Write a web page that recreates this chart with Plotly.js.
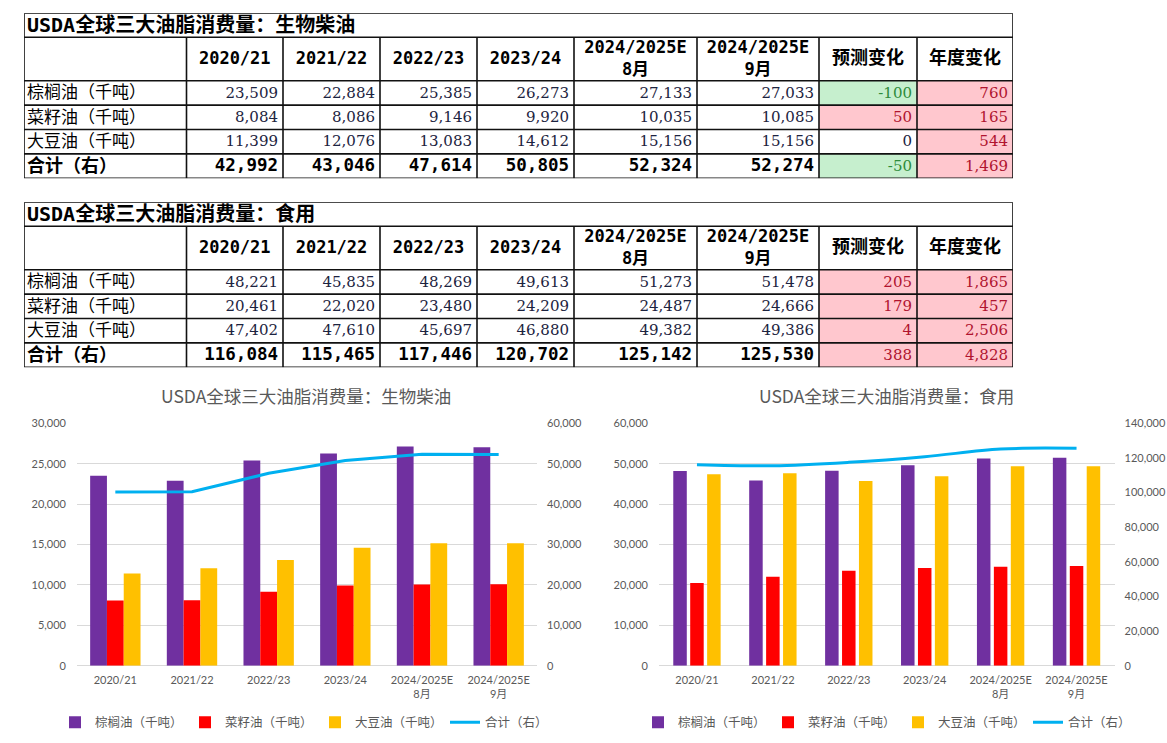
<!DOCTYPE html>
<html>
<head>
<meta charset="utf-8">
<script src="https://cdn.plot.ly/plotly-3.0.1.min.js"></script>
<style>
html,body{margin:0;padding:0;background:#ffffff;}
#chart{width:1167px;height:743px;}
</style>
</head>
<body>
<div id="chart"></div>
<script>
// ---------------- DATA ----------------
const categories = ['2020/21', '2021/22', '2022/23', '2023/24', '2024/2025E<br>8月', '2024/2025E<br>9月'];
const changeHeaders = ['预测变化', '年度变化'];
const rowLabels = ['棕榈油（千吨）', '菜籽油（千吨）', '大豆油（千吨）', '合计（右）'];
const seriesNames = ['棕榈油（千吨）', '菜籽油（千吨）', '大豆油（千吨）', '合计（右）'];
const bioTitle = 'USDA全球三大油脂消费量：生物柴油';
const foodTitle = 'USDA全球三大油脂消费量：食用';

// 生物柴油
const bioPalm = [23509, 22884, 25385, 26273, 27133, 27033];
const bioRapeseed = [8084, 8086, 9146, 9920, 10035, 10085];
const bioSoy = [11399, 12076, 13083, 14612, 15156, 15156];
const bioTotal = [42992, 43046, 47614, 50805, 52324, 52274];
const bioForecastChange = [-100, 50, 0, -50];
const bioAnnualChange = [760, 165, 544, 1469];

// 食用
const foodPalm = [48221, 45835, 48269, 49613, 51273, 51478];
const foodRapeseed = [20461, 22020, 23480, 24209, 24487, 24666];
const foodSoy = [47402, 47610, 45697, 46880, 49382, 49386];
const foodTotal = [116084, 115465, 117446, 120702, 125142, 125530];
const foodForecastChange = [205, 179, 4, 388];
const foodAnnualChange = [1865, 457, 2506, 4828];

// ---------------- STYLE ----------------
const W = 1167, H = 743;
const fx = p => p / W;
const fy = p => 1 - p / H;

const PURPLE = '#7030a0', RED = '#ff0000', YELLOW = '#ffc000', BLUE = '#00b0f0';
const GREEN_FILL = '#c6efce', PINK_FILL = '#ffc7ce';
const GREEN_TEXT = '#2e8b3a', RED_TEXT = '#b0142e';
const NUM_TEXT = '#1c2340';
const GREY = '#595959';
const CJK = 'Noto Sans CJK SC';

const colW = [162.5, 96.5, 97, 97, 97, 123, 122, 98, 96];
const rowH = [24, 43.4, 24.4, 24.4, 24.4, 24.4];
const cum = a => a.reduce((acc, v) => { acc.push(acc[acc.length - 1] + v); return acc; }, [0]);
const xE = cum(colW), yE = cum(rowH);
const TW = xE[xE.length - 1], TH = yE[yE.length - 1];

const fmt = v => v.toLocaleString('en-US');

const data = [];
const shapes = [];
const annotations = [];
const layout = {
  width: W, height: H,
  margin: {l: 0, r: 0, t: 0, b: 0},
  paper_bgcolor: '#ffffff', plot_bgcolor: 'rgba(0,0,0,0)',
  barmode: 'overlay',
  showlegend: true,
  hovermode: false,
  font: {family: CJK, color: GREY}
};

// ---------------- TABLES ----------------
function addTable(k, leftPx, topPx, title, series, forecast, annual) {
  const xa = 'x' + (3 + k), ya = 'y' + (5 + k);
  layout['xaxis' + (3 + k)] = {domain: [fx(leftPx), fx(leftPx + TW)], range: [0, TW], visible: false, fixedrange: true, anchor: ya};
  layout['yaxis' + (5 + k)] = {domain: [fy(topPx + TH), fy(topPx)], range: [TH, 0], visible: false, fixedrange: true, anchor: xa};

  const rows = series.map((s, i) => s.concat([forecast[i], annual[i]]));

  // conditional fills
  rows.forEach((r, i) => {
    r.forEach((v, c) => {
      if (c >= 6 && v !== 0) {
        shapes.push({type: 'rect', xref: xa, yref: ya, x0: xE[c + 1], x1: xE[c + 2], y0: yE[2 + i], y1: yE[3 + i],
          fillcolor: v < 0 ? GREEN_FILL : PINK_FILL, line: {width: 0}, layer: 'below'});
      }
    });
  });

  // grid lines
  const L = {color: '#111111', width: 1.6};
  shapes.push({type: 'rect', xref: xa, yref: ya, x0: 0, x1: TW, y0: 0, y1: TH, line: L});
  for (let j = 1; j < yE.length - 1; j++)
    shapes.push({type: 'line', xref: xa, yref: ya, x0: 0, x1: TW, y0: yE[j], y1: yE[j], line: L});
  for (let j = 1; j < xE.length - 1; j++)
    shapes.push({type: 'line', xref: xa, yref: ya, x0: xE[j], x1: xE[j], y0: yE[1], y1: TH, line: L});

  const base = {type: 'scatter', mode: 'text', xaxis: xa, yaxis: ya, hoverinfo: 'skip', showlegend: false, cliponaxis: false};

  // title row
  data.push(Object.assign({}, base, {
    x: [3], y: [yE[0] + rowH[0] / 2 + 1.5], text: [title], textposition: 'middle right',
    textfont: {family: 'DejaVu Sans Mono, ' + CJK, size: 20, color: '#000000', weight: 'bold'}
  }));

  // header row
  const heads = categories.concat(changeHeaders);
  data.push(Object.assign({}, base, {
    x: heads.map((h, i) => (xE[i + 1] + xE[i + 2]) / 2),
    y: heads.map(() => yE[1] + rowH[1] / 2 + 1),
    text: heads, textposition: 'middle center',
    textfont: {family: 'DejaVu Sans Mono, ' + CJK, size: heads.map((h, i) => i < 6 ? 17 : 18), color: '#000000', weight: 'bold'}
  }));

  // row labels
  data.push(Object.assign({}, base, {
    x: rowLabels.slice(0, 3).map(() => 3),
    y: rowLabels.slice(0, 3).map((l, i) => yE[2 + i] + rowH[2 + i] / 2 + 1),
    text: rowLabels.slice(0, 3), textposition: 'middle right',
    textfont: {family: CJK, size: 17, color: '#000000'}
  }));
  data.push(Object.assign({}, base, {
    x: [3], y: [yE[5] + rowH[5] / 2 + 1], text: [rowLabels[3]], textposition: 'middle right',
    textfont: {family: CJK, size: 18, color: '#000000', weight: 'bold'}
  }));

  // numbers
  const nx = [], ny = [], nt = [], nc = [];
  const bx = [], by = [], bt = [];
  rows.forEach((r, i) => {
    r.forEach((v, c) => {
      const xr = xE[c + 2] - 5;
      const yc = yE[2 + i] + rowH[2 + i] / 2 + 1;
      if (i === 3 && c < 6) {
        bx.push(xr); by.push(yc); bt.push(fmt(v));
      } else {
        nx.push(xr); ny.push(yc); nt.push(fmt(v));
        nc.push(c >= 6 ? (v < 0 ? GREEN_TEXT : v > 0 ? RED_TEXT : NUM_TEXT) : NUM_TEXT);
      }
    });
  });
  data.push(Object.assign({}, base, {
    x: nx, y: ny, text: nt, textposition: 'middle left',
    textfont: {family: 'DejaVu Serif', size: 15, color: nc}
  }));
  data.push(Object.assign({}, base, {
    x: bx, y: by, text: bt, textposition: 'middle left',
    textfont: {family: 'DejaVu Sans Mono', size: 17.5, color: '#000000', weight: 'bold'}
  }));
}

addTable(0, 24, 13.3, bioTitle, [bioPalm, bioRapeseed, bioSoy, bioTotal], bioForecastChange, bioAnnualChange);
addTable(1, 24, 202.3, foodTitle, [foodPalm, foodRapeseed, foodSoy, foodTotal], foodForecastChange, foodAnnualChange);

// ---------------- CHARTS ----------------
const tickFont = {family: 'Lato, ' + CJK, size: 11, color: GREY};
const plotTop = 423.3, plotBottom = 665.7;

function addChart(k, left, right, title, titleX, palm, rape, soy, total, leftMax, leftStep, rightMax, rightStep, barW, offs, lineShape, legendX) {
  const xa = k === 0 ? 'x' : 'x2';
  const yl = k === 0 ? 'y' : 'y3';
  const yr = k === 0 ? 'y2' : 'y4';
  const lg = k === 0 ? 'legend' : 'legend2';
  layout[k === 0 ? 'xaxis' : 'xaxis2'] = {
    domain: [fx(left), fx(right)], anchor: yl, type: 'category',
    showgrid: false, zeroline: false, showline: false, ticks: '',
    tickfont: tickFont, fixedrange: true, ticklabelstandoff: 6
  };
  layout[k === 0 ? 'yaxis' : 'yaxis3'] = {
    domain: [fy(plotBottom), fy(plotTop)], anchor: xa, range: [0, leftMax], dtick: leftStep,
    tickformat: ',d', showgrid: true, gridcolor: '#d9d9d9', gridwidth: 1,
    zeroline: true, zerolinecolor: '#d9d9d9', zerolinewidth: 1, showline: false, ticks: '',
    tickfont: tickFont, ticklabelstandoff: 10, fixedrange: true
  };
  layout[k === 0 ? 'yaxis2' : 'yaxis4'] = {
    domain: [fy(plotBottom), fy(plotTop)], anchor: xa, overlaying: yl, side: 'right',
    range: [0, rightMax], dtick: rightStep, tickformat: ',d', showgrid: false, zeroline: false,
    showline: false, ticks: '', tickfont: tickFont, ticklabelstandoff: 9, fixedrange: true
  };
  const vals = [palm, rape, soy];
  const cols = [PURPLE, RED, YELLOW];
  vals.forEach((v, i) => {
    data.push({
      type: 'bar', x: categories, y: v, name: seriesNames[i], xaxis: xa, yaxis: yl,
      width: barW, offset: offs[i], marker: {color: cols[i], line: {width: 0}},
      legend: lg, hoverinfo: 'skip'
    });
  });
  data.push({
    type: 'scatter', mode: 'lines', x: categories, y: total, name: seriesNames[3], xaxis: xa, yaxis: yr,
    line: {color: BLUE, width: 3, shape: lineShape, smoothing: 1}, legend: lg, hoverinfo: 'skip'
  });
  layout[lg] = {
    orientation: 'h', x: fx(legendX), xanchor: 'left', y: fy(722.7), yanchor: 'middle',
    entrywidth: 85, entrywidthmode: 'pixels', bgcolor: 'rgba(0,0,0,0)',
    font: {family: CJK, size: 12.5, color: GREY}, traceorder: 'normal'
  };
  annotations.push({
    xref: 'paper', yref: 'paper', x: fx(titleX), y: fy(395), xanchor: 'center', yanchor: 'middle',
    text: title, showarrow: false, font: {family: CJK, size: 17.5, color: GREY}
  });
}

addChart(0, 77, 537, bioTitle, 305.5, bioPalm, bioRapeseed, bioSoy, bioTotal,
  30000, 5000, 60000, 10000, 0.219, [-0.3285, -0.1095, 0.1095], 'linear', 55);
addChart(1, 659, 1114.5, foodTitle, 886, foodPalm, foodRapeseed, foodSoy, foodTotal,
  60000, 10000, 140000, 20000, 0.178, [-0.312, -0.089, 0.134], 'spline', 638);

layout.shapes = shapes;
layout.annotations = annotations;

Plotly.newPlot('chart', data, layout, {displayModeBar: false, staticPlot: true});
</script>
</body>
</html>
